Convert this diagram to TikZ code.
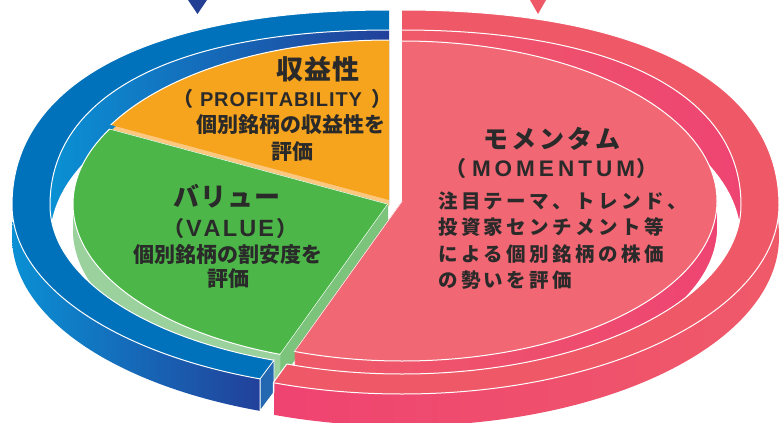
\documentclass[tikz,border=0pt]{standalone}
\usepackage{fontspec}
\newfontfamily\jp{Noto Sans CJK JP}
\newfontfamily\lat{Liberation Sans}
\definecolor{cOr}{HTML}{F6A41E}
\definecolor{cOrS}{HTML}{FCC880}
\definecolor{cGr}{HTML}{4CB748}
\definecolor{cGrS}{HTML}{9BD19C}
\definecolor{cGrR}{HTML}{7CC47C}
\definecolor{cPk}{HTML}{F16773}
\definecolor{cPkS1}{HTML}{EF5B69}
\definecolor{cPkS2}{HTML}{EE4472}
\definecolor{cBlT}{HTML}{0071BB}
\definecolor{cBlW1}{HTML}{0A90D4}
\definecolor{cBlW2}{HTML}{22409A}
\definecolor{cBlE}{HTML}{2468B2}
\definecolor{cPkT}{HTML}{EF5967}
\definecolor{cPkW1}{HTML}{EF4371}
\definecolor{cPkW2}{HTML}{EF5A69}
\definecolor{cPkI1}{HTML}{EF5A69}
\definecolor{cPkI2}{HTML}{EE4472}
\definecolor{cTx}{HTML}{2A2A2A}
\definecolor{cNavy}{HTML}{233F94}
\definecolor{cFloor}{HTML}{FFFFFF}
\makeatletter
\newcommand\spr[2]{\makebox[#1][s]{\let\spr@sep\relax\@tfor\spr@c:=#2\do{\spr@sep\spr@c\let\spr@sep\hfill}}}
\makeatother
% ring outline: cx cy a btop bbot ktop
\newcommand\ringol[6]{({#1+#3},{#2}) .. controls ({#1+#3},{#2-#6*#4}) and ({#1+#6*#3},{#2-#4}) .. ({#1},{#2-#4}) .. controls ({#1-#6*#3},{#2-#4}) and ({#1-#3},{#2-#6*#4}) .. ({#1-#3},{#2}) .. controls ({#1-#3},{#2+0.5523*#5}) and ({#1-0.5523*#3},{#2+#5}) .. ({#1},{#2+#5}) .. controls ({#1+0.5523*#3},{#2+#5}) and ({#1+#3},{#2+0.5523*#5}) .. ({#1+#3},{#2}) -- cycle}
\newcommand\orpoly[2]{(#1,#2) -- (#1,{#2-600}) -- ({#1-1000},{#2-600}) -- ({#1+3*315*cos(152)},{#2-3*160*sin(152)}) -- cycle}
\newcommand\grpoly[2]{(#1,#2) -- ({#1+3*315*cos(152)},{#2-3*160*sin(152)}) -- ({#1-1000},{#2+800}) -- ({#1+3*315*cos(250)},{#2-3*160*sin(250)}) -- cycle}
\newcommand\pkpoly[2]{(#1,#2) -- ({#1+3*315*cos(250)},{#2-3*160*sin(250)}) -- ({#1+1000},{#2+800}) -- ({#1+1000},{#2-600}) -- (#1,{#2-600}) -- cycle}
\newcommand\pieel[2]{(#1,#2) ellipse [x radius=315pt, y radius=160pt]}
\def\blueclip{(389,205) -- (389,-50) -- (-50,-50) -- (-50,480) -- (260.1,480) -- (260.1,378.8) -- cycle}
\def\pinkclip{(402,205) -- (273.3,382.6) -- (273.3,480) -- (840,480) -- (840,-50) -- (402,-50) -- cycle}
\begin{document}
\begin{tikzpicture}[x=1pt,y=-1pt,
  txt/.style={text=cTx, inner sep=0pt, font=\jp\bfseries},
  latx/.style={text=cTx, inner sep=0pt, font=\lat\bfseries},
  edge/.style={white, line width=1pt}]
\useasboundingbox (0,0) rectangle (782,423);
\fill[white] (0,0) rectangle (782,423);

% ---- outer walls of the ring
\begin{scope}
  \clip \blueclip;
  \clip (-50,205) rectangle (840,480);
  \clip \ringol{389}{237}{377}{195}{185}{0.63};
  \shade[left color=cBlW1,right color=cBlW2] (12,190) rectangle (262,440);
\end{scope}
\begin{scope}
  \clip \pinkclip;
  \clip (-50,205) rectangle (840,480);
  \clip \ringol{402}{237}{377}{195}{189}{0.63};
  \shade[left color=cPkW1,right color=cPkW2] (273,190) rectangle (779,440);
\end{scope}

% ---- inner walls and floor
\begin{scope}
  \clip \blueclip;
  \clip \ringol{389}{205}{339}{175}{165}{0.63};
  \shade[left color=cBlW1,right color=cBlW2] (50,20) rectangle (389,400);
  \fill[cFloor] \ringol{389}{239}{339}{175}{165}{0.5523};
\end{scope}
\begin{scope}
  \clip \pinkclip;
  \clip \ringol{402}{205}{339}{175}{169}{0.63};
  \shade[left color=cPkI1,right color=cPkI2] (402,20) rectangle (741,400);
  \fill[cFloor] \ringol{402}{239}{339}{175}{169}{0.5523};
\end{scope}

% ---- pie: orange slice
\begin{scope}[shift={(0,6)}]
  \clip \orpoly{389}{200};
  \fill[cOrS] \pieel{389}{200};
\end{scope}
\begin{scope}
  \clip \orpoly{389}{200};
  \fill[cOr] \pieel{389}{200};
  \draw[edge] \pieel{389}{200};
\end{scope}

% ---- pie: green slice
\foreach \s in {2,4,...,26} {
  \begin{scope}[shift={(0,\s)}]
    \clip \grpoly{388}{204};
    \fill[cGrS] \pieel{388}{204};
  \end{scope}
}
\fill[cGrR] (388,204) -- ({388+315*cos(250)},{204-160*sin(250)}) -- ++(0,26) -- (388,230) -- cycle;
\begin{scope}
  \clip \grpoly{388}{204};
  \fill[cGr] \pieel{388}{204};
  \draw[edge] \pieel{388}{204};
  \draw[edge] (388,204) -- ({388+315*cos(152)},{204-160*sin(152)});
  \draw[edge] (388,204) -- ({388+315*cos(250)},{204-160*sin(250)});
\end{scope}

% ---- pie: pink slice
\foreach \s in {2,4,...,26} {
  \begin{scope}[shift={(0,\s)}]
    \clip \pkpoly{402}{201};
    \clip \pieel{402}{201};
    \shade[left color=cPkS1,right color=cPkS2] (290,150) rectangle (720,430);
  \end{scope}
}
\begin{scope}
  \clip \pkpoly{402}{201};
  \fill[cPk] \pieel{402}{201};
  \draw[edge] \pieel{402}{201};
  \draw[edge] (402,201) -- ({402+315*cos(250)},{201-160*sin(250)});
\end{scope}

% ---- ring top faces
\begin{scope}
  \clip \blueclip;
  \fill[cBlT, even odd rule] \ringol{389}{205}{377}{195}{185}{0.63} \ringol{389}{205}{339}{175}{165}{0.63};
  \draw[edge] \ringol{389}{205}{377}{195}{185}{0.63};
  \draw[edge] \ringol{389}{205}{339}{175}{165}{0.63};
\end{scope}
\fill[cBlE, draw=white, line width=0.8pt] (274,360.2) -- (260.1,378.8) -- (260.1,410.8) -- (274,392.2) -- cycle;
\begin{scope}
  \clip \pinkclip;
  \fill[cPkT, even odd rule] \ringol{402}{205}{377}{195}{189}{0.63} \ringol{402}{205}{339}{175}{169}{0.63};
  \draw[edge] \ringol{402}{205}{377}{195}{189}{0.63};
  \draw[edge] \ringol{402}{205}{339}{175}{169}{0.63};
\end{scope}
\draw[edge] (286.8,364) -- (273.3,382.6) -- (273.3,430);

% ---- markers on top
\fill[cNavy] (188,0) -- (207,0) -- (197.5,14) -- cycle;
\fill[cPkT] (530,0) -- (546,0) -- (538,14) -- cycle;

% ---- texts: profitability
\node[txt, anchor=base] (pt) at (318,79.7) {\fontsize{27pt}{27pt}\selectfont\spr{84pt}{収益性}};
\node[latx, anchor=base] (pe) at (281,106.5) {\fontsize{20pt}{20pt}\selectfont\spr{162pt}{PROFITABILITY}};
\node[txt, anchor=base west] (pl) at (173.5,106.5) {\fontsize{20pt}{20pt}\selectfont （};
\node[txt, anchor=base west] (pr) at (371.5,106.5) {\fontsize{20pt}{20pt}\selectfont ）};
\node[txt, anchor=base] (pd1) at (291,132.6) {\fontsize{21pt}{21pt}\selectfont 個別銘柄の収益性を};
\node[txt, anchor=base] (pd2) at (292,159.6) {\fontsize{21pt}{21pt}\selectfont 評価};

% ---- texts: value
\node[txt, anchor=base] (vt) at (227,206.4) {\fontsize{26pt}{26pt}\selectfont\spr{107pt}{バリュー}};
\node[latx, anchor=base] (ve) at (230,236.5) {\fontsize{23.5pt}{23.5pt}\selectfont\spr{88pt}{VALUE}};
\node[txt, anchor=base west] (vl) at (162.8,236.5) {\fontsize{21pt}{21pt}\selectfont （};
\node[txt, anchor=base west] (vr) at (276.2,236.5) {\fontsize{21pt}{21pt}\selectfont ）};
\node[txt, anchor=base] (vd1) at (228,262.6) {\fontsize{21pt}{21pt}\selectfont 個別銘柄の割安度を};
\node[txt, anchor=base] (vd2) at (228,286.6) {\fontsize{21pt}{21pt}\selectfont 評価};

% ---- texts: momentum
\node[txt, anchor=base] (mt) at (552,148) {\fontsize{25pt}{25pt}\selectfont\spr{137pt}{モメンタム}};
\node[latx, anchor=base] (me) at (553.5,176.2) {\fontsize{22.5pt}{22.5pt}\selectfont\spr{163pt}{MOMENTUM}};
\node[txt, anchor=base west] (ml) at (445.3,176.2) {\fontsize{21pt}{21pt}\selectfont （};
\node[txt, anchor=base west] (mr) at (636.7,176.2) {\fontsize{21pt}{21pt}\selectfont ）};
\node[txt, anchor=base west] (md1) at (438,208) {\fontsize{19.5pt}{19.5pt}\selectfont\spr{248.5pt}{注目テーマ、トレンド、}};
\node[txt, anchor=base west] (md2) at (438,234.5) {\fontsize{19.5pt}{19.5pt}\selectfont\spr{225.6pt}{投資家センチメント等}};
\node[txt, anchor=base west] (md3) at (438,261) {\fontsize{19.5pt}{19.5pt}\selectfont\spr{225.6pt}{による個別銘柄の株価}};
\node[txt, anchor=base west] (md4) at (438,287.5) {\fontsize{19.5pt}{19.5pt}\selectfont\spr{134pt}{の勢いを評価}};
\end{tikzpicture}
\end{document}
